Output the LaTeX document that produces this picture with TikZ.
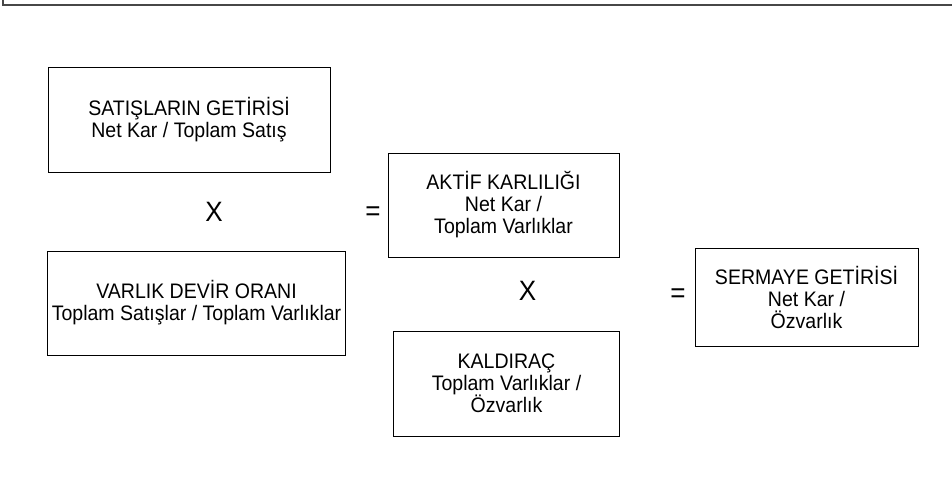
\documentclass[tikz,border=0pt]{standalone}
\usepackage{fontspec}
\setmainfont[FakeStretch=0.93]{Liberation Sans}
\begin{document}
\begin{tikzpicture}[x=1pt,y=1pt,
  ratiobox/.style={draw=black, line width=0.9pt, align=center, font=\fontsize{21}{22}\selectfont, inner sep=0pt},
  opsym/.style={font=\fontsize{28}{30}\selectfont, inner sep=0pt}]
\useasboundingbox (0,0) rectangle (952,481);
% frame: top and left edges only
\draw[line width=2pt, draw=black!72] (3,481) |- (952,476);
% ratio boxes (corners given in picture coordinates, y measured upward)
\node[ratiobox, minimum width=282pt, minimum height=105pt] (sales) at (189,361)
  {SATIŞLARIN GETİRİSİ\\Net Kar / Toplam Satış};
\node[ratiobox, minimum width=298pt, minimum height=104pt] (turn) at (196.5,178)
  {VARLIK DEVİR ORANI\\Toplam Satışlar / Toplam Varlıklar};
\node[ratiobox, minimum width=231pt, minimum height=104pt] (roa) at (503.5,276)
  {AKTİF KARLILIĞI\\Net Kar /\\Toplam Varlıklar};
\node[ratiobox, minimum width=226pt, minimum height=105pt] (lev) at (506.5,97.5)
  {KALDIRAÇ\\Toplam Varlıklar /\\Özvarlık};
\node[ratiobox, minimum width=223pt, minimum height=98pt] (roe) at (806.5,184)
  {SERMAYE GETİRİSİ\\Net Kar /\\Özvarlık};
% operators
\node[opsym] (x1) at (214,269) {X};
\node[opsym] (eq1) at (373,267) {=};
\node[opsym] (x2) at (527.5,190.5) {X};
\node[opsym] (eq2) at (678,185) {=};
\end{tikzpicture}
\end{document}
